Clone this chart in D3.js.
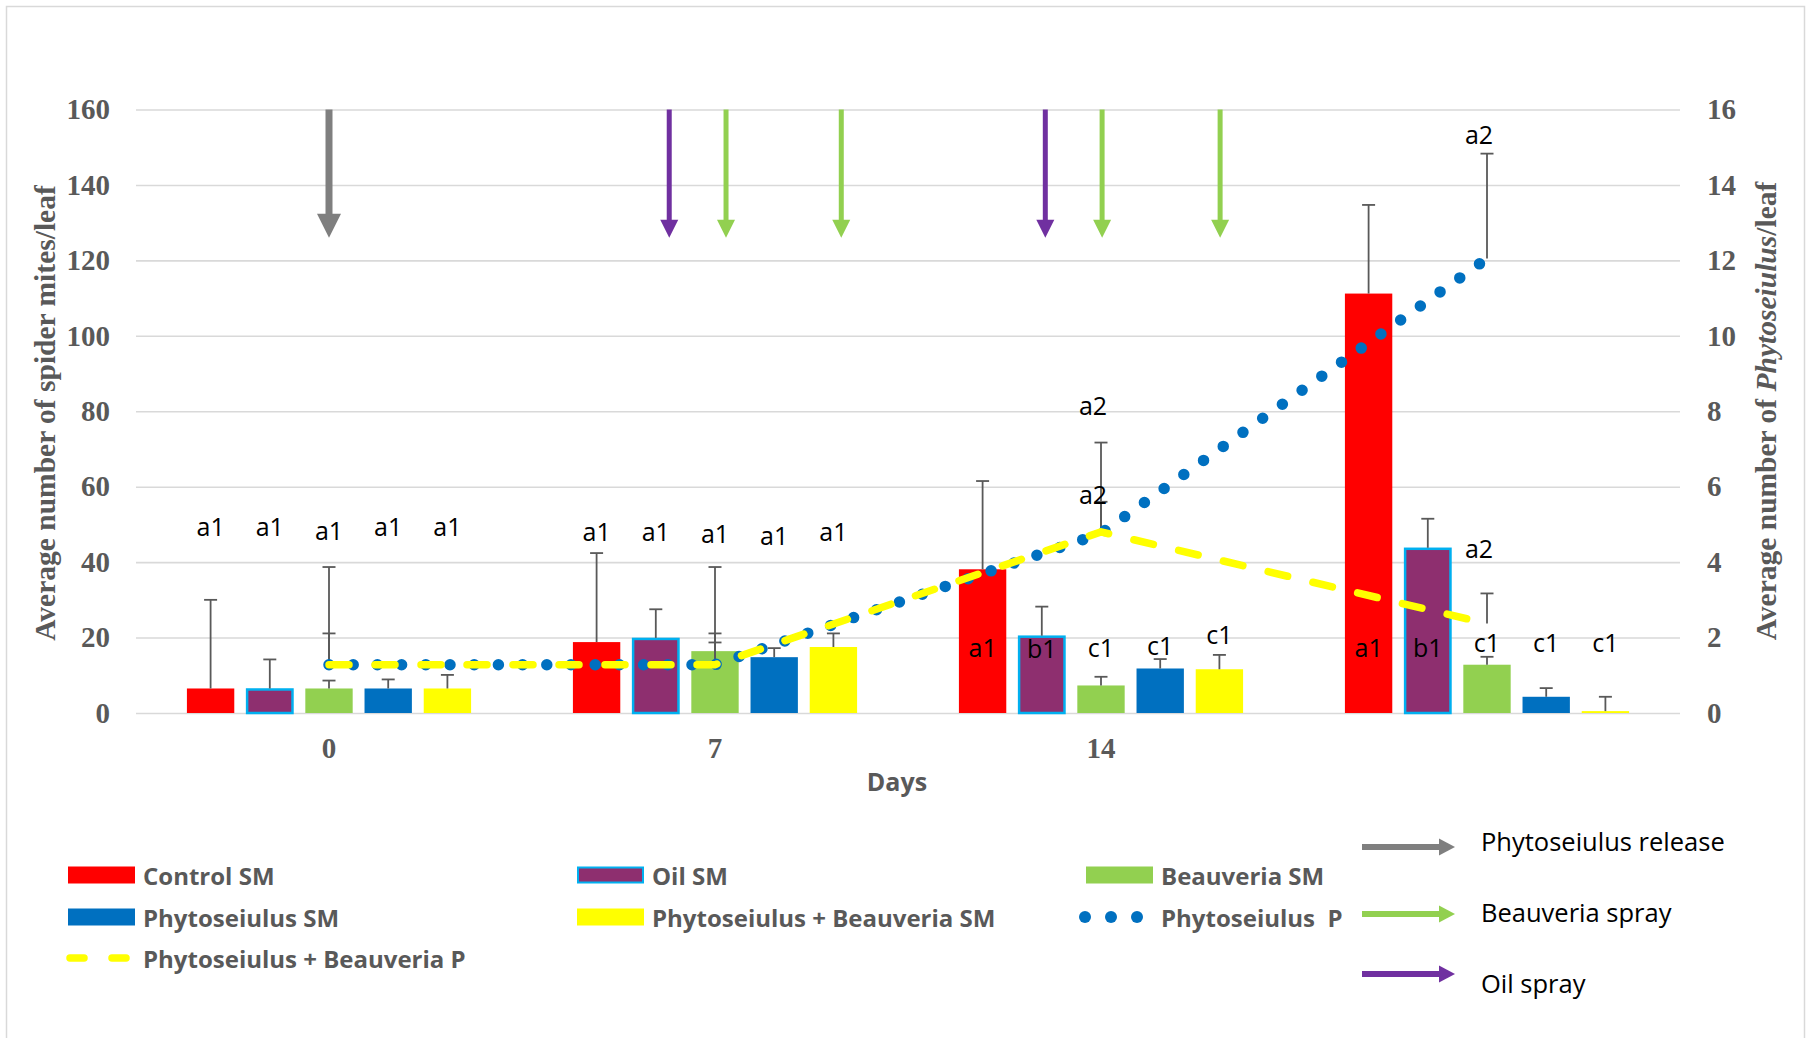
<!DOCTYPE html>
<html><head><meta charset="utf-8">
<script src="https://cdn.jsdelivr.net/npm/d3@7"></script>
<style>body{margin:0;background:#fff}</style>
</head><body>
<svg id="chart" width="1807" height="1038"></svg>
<script>
// ---------- DATA ----------
const days = ["0", "7", "14", "21"];
const dayTickLabels = ["0", "7", "14", ""];
const leftTicks = [0, 20, 40, 60, 80, 100, 120, 140, 160];
const rightTicks = [0, 2, 4, 6, 8, 10, 12, 14, 16];

const seriesNames = ["Control SM", "Oil SM", "Beauveria SM", "Phytoseiulus SM", "Phytoseiulus + Beauveria SM"];
const controlSM = [6.5, 18.8, 38.1, 111.2];
const oilSM = [6.5, 19.9, 20.5, 43.8];
const beauveriaSM = [6.5, 16.4, 7.3, 12.8];
const phytoSM = [6.5, 14.8, 11.8, 4.3];
const phytoBeauvSM = [6.5, 17.5, 11.6, 0.5];

const controlErr = [23.5, 23.6, 23.4, 23.5];
const oilErr = [7.7, 7.6, 7.7, 7.7];
const beauveriaErr = [2.1, 2.3, 2.3, 2.1];
const phytoErr = [2.4, 2.4, 2.5, 2.3];
const phytoBeauvErr = [3.6, 3.6, 3.8, 3.8];

const controlLbl = ["a1", "a1", "a1", "a1"];
const oilLbl = ["a1", "a1", "b1", "b1"];
const beauveriaLbl = ["a1", "a1", "c1", "c1"];
const phytoLbl = ["a1", "a1", "c1", "c1"];
const phytoBeauvLbl = ["a1", "a1", "c1", "c1"];
const controlLblY = [49.7, 48.3, 17.5, 17.5];
const oilLblY = [49.5, 48.3, 17.3, 17.5];
const beauveriaLblY = [48.5, 47.7, 17.5, 18.9];
const phytoLblY = [49.5, 47.3, 18.1, 18.7];
const phytoBeauvLblY = [49.7, 48.3, 21.0, 18.7];

const lineNames = ["Phytoseiulus  P", "Phytoseiulus + Beauveria P"];
const phytoP = [1.28, 1.28, 4.76, 12.05];
const phytoBeauvP = [1.28, 1.28, 4.8, 2.37];
const phytoPErr = [2.59, 2.59, 2.41, 2.78];
const phytoBeauvPErr = [0.83, 0.83, 0.8, 0.8];
const phytoPLbl = ["", "", "a2", "a2"];
const phytoBeauvPLbl = ["", "", "a2", "a2"];
const phytoPLblY = [0, 0, 8.17, 15.34];
const phytoBeauvPLblY = [0, 0, 5.8, 4.38];

const arrowDays = [0, 6.17, 7.2, 9.29, 12.99, 14.02, 16.16];
const arrowKinds = ["Phytoseiulus release", "Oil spray", "Beauveria spray", "Beauveria spray", "Oil spray", "Beauveria spray", "Beauveria spray"];
const arrowTop = 160, arrowTip = 126;
const arrowLegend = ["Phytoseiulus release", "Beauveria spray", "Oil spray"];

// ---------- STYLES ----------
const barFill = {"Control SM": "#FF0000", "Oil SM": "#8E2F6F", "Beauveria SM": "#92D050", "Phytoseiulus SM": "#0070C0", "Phytoseiulus + Beauveria SM": "#FFFF00"};
const barStroke = {"Oil SM": "#00B0F0"};
const arrowColor = {"Phytoseiulus release": "#7F7F7F", "Oil spray": "#7030A0", "Beauveria spray": "#92D050"};
const gray = "#595959";
const serif = "'Liberation Serif', 'Times New Roman', serif";

// ---------- BUILD ----------
const barSeries = [
  {name: seriesNames[0], v: controlSM, e: controlErr, l: controlLbl, ly: controlLblY},
  {name: seriesNames[1], v: oilSM, e: oilErr, l: oilLbl, ly: oilLblY},
  {name: seriesNames[2], v: beauveriaSM, e: beauveriaErr, l: beauveriaLbl, ly: beauveriaLblY},
  {name: seriesNames[3], v: phytoSM, e: phytoErr, l: phytoLbl, ly: phytoLblY},
  {name: seriesNames[4], v: phytoBeauvSM, e: phytoBeauvErr, l: phytoBeauvLbl, ly: phytoBeauvLblY}
];
const lineSeries = [
  {name: lineNames[0], v: phytoP, e: phytoPErr, l: phytoPLbl, ly: phytoPLblY},
  {name: lineNames[1], v: phytoBeauvP, e: phytoBeauvPErr, l: phytoBeauvPLbl, ly: phytoBeauvPLblY}
];

const svg = d3.select("#chart");
const L = 136, R = 1680, T = 109.5, B = 713;

const x0 = d3.scaleBand().domain(days).range([L, R]).paddingInner(0).paddingOuter(0);
const bw = x0.bandwidth();
const x1 = d3.scaleBand().domain(seriesNames).range([0, bw]).paddingInner(0.2).paddingOuter(0.86);
const y = d3.scaleLinear().domain([0, 160]).range([B, T]);
const y2 = d3.scaleLinear().domain([0, 16]).range([B, T]);
const dayX = d3.scaleLinear().domain([0, 21]).range([x0("0") + bw / 2, x0("21") + bw / 2]);
const cx = d => x0(d) + bw / 2;

// border
svg.append("rect").attr("x", 6.5).attr("y", 6.5).attr("width", 1798).attr("height", 1040)
  .attr("fill", "none").attr("stroke", "#D9D9D9").attr("stroke-width", 1.5);

// left axis + grid
const gL = svg.append("g").attr("transform", `translate(${L},0)`)
  .call(d3.axisLeft(y).tickValues(leftTicks).tickSize(-(R - L)).tickPadding(26));
gL.select(".domain").remove();
gL.selectAll(".tick line").attr("stroke", "#D9D9D9").attr("stroke-width", 1.6);
gL.selectAll(".tick text").attr("fill", gray).style("font-family", serif)
  .style("font-weight", "bold").style("font-size", "29px");

// right axis
const gR = svg.append("g").attr("transform", `translate(${R},0)`)
  .call(d3.axisRight(y2).tickValues(rightTicks).tickSize(0).tickPadding(27));
gR.select(".domain").remove();
gR.selectAll(".tick text").attr("fill", gray).style("font-family", serif)
  .style("font-weight", "bold").style("font-size", "29px");

// bottom axis
const gB = svg.append("g").attr("transform", `translate(0,${B})`)
  .call(d3.axisBottom(x0).tickSize(0).tickPadding(24).tickFormat((d, i) => dayTickLabels[i]));
gB.select(".domain").remove();
gB.selectAll(".tick text").attr("fill", gray).style("font-family", serif)
  .style("font-weight", "bold").style("font-size", "29px");

// axis titles
svg.append("text").attr("transform", "translate(45,413) rotate(-90)").attr("text-anchor", "middle")
  .attr("dominant-baseline", "central")
  .attr("fill", gray).style("font-family", serif)
  .style("font-weight", "bold").style("font-size", "29.5px").text("Average number of spider mites/leaf");
const rt = svg.append("text").attr("transform", "translate(1766,411) rotate(-90)").attr("text-anchor", "middle")
  .attr("dominant-baseline", "central")
  .attr("fill", gray).style("font-family", serif)
  .style("font-weight", "bold").style("font-size", "29.5px");
rt.append("tspan").text("Average number of ");
rt.append("tspan").style("font-style", "italic").text("Phytoseiulus");
rt.append("tspan").text("/leaf");
svg.append("text").attr("x", 897).attr("y", 781).attr("text-anchor", "middle").attr("dominant-baseline", "central")
  .attr("fill", gray).style("font-family", "'Open Sans', sans-serif").style("font-weight", 700)
  .style("font-size", "25px").text("Days");

// arrows in plot
function vArrow(g, x, y1, y2p, color, shaftW, headW, headL) {
  g.append("line").attr("x1", x).attr("x2", x).attr("y1", y1).attr("y2", y2p - headL + 1)
    .attr("stroke", color).attr("stroke-width", shaftW);
  g.append("path").attr("d", `M${x - headW / 2},${y2p - headL} L${x + headW / 2},${y2p - headL} L${x},${y2p} Z`)
    .attr("fill", color);
}
function hArrow(g, x1p, x2p, yy, color, shaftW, headW, headL) {
  g.append("line").attr("x1", x1p).attr("x2", x2p - headL + 1).attr("y1", yy).attr("y2", yy)
    .attr("stroke", color).attr("stroke-width", shaftW);
  g.append("path").attr("d", `M${x2p - headL},${yy - headW / 2} L${x2p - headL},${yy + headW / 2} L${x2p},${yy} Z`)
    .attr("fill", color);
}
const gA = svg.append("g");
arrowDays.forEach((d, i) => {
  const k = arrowKinds[i];
  const big = k === "Phytoseiulus release";
  vArrow(gA, dayX(d), y(arrowTop), y(arrowTip), arrowColor[k], big ? 7 : 5, big ? 24 : 18, big ? 24 : 18);
});

// bars
const gBars = svg.append("g");
barSeries.forEach(s => {
  days.forEach((d, i) => {
    const bx = x0(d) + x1(s.name);
    const st = barStroke[s.name];
    gBars.append("rect").attr("x", st ? bx + 1 : bx).attr("y", y(s.v[i]) + (st ? 1 : 0))
      .attr("width", x1.bandwidth() - (st ? 2 : 0)).attr("height", y(0) - y(s.v[i]) - (st ? 1 : 0))
      .attr("fill", barFill[s.name]).attr("stroke", st || "none").attr("stroke-width", st ? 2.5 : 0);
  });
});

// error bars
function errBar(g, x, yv, ye) {
  g.append("line").attr("x1", x).attr("x2", x).attr("y1", yv).attr("y2", ye).attr("stroke", gray).attr("stroke-width", 1.8);
  g.append("line").attr("x1", x - 6.5).attr("x2", x + 6.5).attr("y1", ye).attr("y2", ye).attr("stroke", gray).attr("stroke-width", 1.8);
}
const gE = svg.append("g");
barSeries.forEach(s => {
  days.forEach((d, i) => {
    const bx = x0(d) + x1(s.name) + x1.bandwidth() / 2;
    errBar(gE, bx, y(s.v[i]), y(s.v[i] + s.e[i]));
  });
});
lineSeries.forEach(s => {
  days.forEach((d, i) => errBar(gE, cx(d), y2(s.v[i]), y2(s.v[i] + s.e[i])));
});

// lines
const lineGen = d3.line().x((v, i) => cx(days[i])).y(v => y2(v));
svg.append("path").datum(phytoP).attr("d", lineGen).attr("fill", "none")
  .attr("stroke", "#0070C0").attr("stroke-width", 11.5).attr("stroke-linecap", "round")
  .attr("stroke-dasharray", "0,24.2");
svg.append("path").datum(phytoBeauvP).attr("d", lineGen).attr("fill", "none")
  .attr("stroke", "#FFFF00").attr("stroke-width", 7.5).attr("stroke-linecap", "round")
  .attr("stroke-dasharray", "20,26");

// letter labels
const gT = svg.append("g").style("font-family", "'Open Sans', sans-serif").style("font-size", "25px").attr("fill", "#000");
barSeries.forEach(s => {
  days.forEach((d, i) => {
    if (!s.l[i]) return;
    gT.append("text").attr("x", x0(d) + x1(s.name) + x1.bandwidth() / 2).attr("y", y(s.ly[i]))
      .attr("text-anchor", "middle").attr("dominant-baseline", "central").text(s.l[i]);
  });
});
lineSeries.forEach(s => {
  days.forEach((d, i) => {
    if (!s.l[i]) return;
    gT.append("text").attr("x", cx(d) - 8).attr("y", y2(s.ly[i]))
      .attr("text-anchor", "middle").attr("dominant-baseline", "central").text(s.l[i]);
  });
});

// legend
const gLeg = svg.append("g").style("font-family", "'Open Sans', sans-serif").style("font-weight", 700)
  .style("font-size", "24px").attr("fill", gray);
const legItems = [
  {name: seriesNames[0], x: 68, y: 875, type: "bar"},
  {name: seriesNames[1], x: 577, y: 875, type: "bar"},
  {name: seriesNames[2], x: 1086, y: 875, type: "bar"},
  {name: seriesNames[3], x: 68, y: 917, type: "bar"},
  {name: seriesNames[4], x: 577, y: 917, type: "bar"},
  {name: lineNames[0], x: 1086, y: 917, type: "dots"},
  {name: lineNames[1], x: 68, y: 958, type: "dash"}
];
legItems.forEach(it => {
  if (it.type === "bar") {
    const st = barStroke[it.name];
    gLeg.append("rect").attr("x", it.x + (st ? 1 : 0)).attr("y", it.y - 8.5 + (st ? 1 : 0)).attr("width", 67 - (st ? 2 : 0)).attr("height", 17 - (st ? 2 : 0))
      .attr("fill", barFill[it.name]).attr("stroke", st || "none").attr("stroke-width", st ? 2 : 0);
  } else if (it.type === "dots") {
    [0, 1, 2].forEach(k => gLeg.append("circle").attr("cx", it.x - 1 + k * 26).attr("cy", it.y).attr("r", 6).attr("fill", "#0070C0"));
  } else {
    [0, 1].forEach(k => gLeg.append("line").attr("x1", it.x + 2 + k * 42).attr("x2", it.x + 16 + k * 42)
      .attr("y1", it.y).attr("y2", it.y).attr("stroke", "#FFFF00").attr("stroke-width", 7.5).attr("stroke-linecap", "round"));
  }
  gLeg.append("text").attr("x", it.x + 75).attr("y", it.y).attr("dominant-baseline", "central")
    .style("white-space", "pre").attr("xml:space", "preserve").text(it.name);
});

// arrow legend
const arrowLegY = [847, 914, 974];
const arrowLegTextY = [841, 912, 983];
const gAL = svg.append("g").style("font-family", "'Open Sans', sans-serif").style("font-size", "25.5px").attr("fill", "#000");
arrowLegend.forEach((k, i) => {
  hArrow(gAL, 1362, 1455, arrowLegY[i], arrowColor[k], 6, 17, 16);
  gAL.append("text").attr("x", 1481).attr("y", arrowLegTextY[i]).attr("dominant-baseline", "central").text(k);
});
</script>
</body></html>
